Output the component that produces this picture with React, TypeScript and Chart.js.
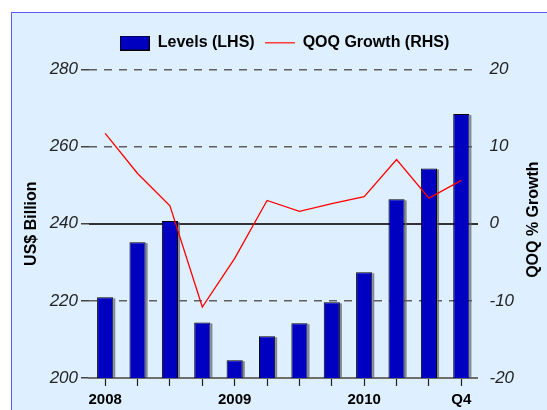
import React, { useEffect, useRef } from "react";
import { Chart, registerables } from "chart.js";

Chart.register(...registerables);

const quarters = [
  "2008 Q1", "2008 Q2", "2008 Q3", "2008 Q4",
  "2009 Q1", "2009 Q2", "2009 Q3", "2009 Q4",
  "2010 Q1", "2010 Q2", "2010 Q3", "2010 Q4",
];
const tickLabels = ["2008", "", "", "", "2009", "", "", "", "2010", "", "", "Q4"];
const levels = [220.9, 235.2, 240.7, 214.4, 204.6, 210.8, 214.2, 219.6, 227.4, 246.3, 254.3, 268.4];
const growth = [11.7, 6.5, 2.3, -10.8, -4.5, 3.0, 1.6, 2.6, 3.5, 8.3, 3.3, 5.6];
const levelsLabel = "Levels (LHS)";
const growthLabel = "QOQ Growth (RHS)";
const leftTitle = "US$ Billion";
const rightTitle = "QOQ % Growth";

const FAMILY = '"Liberation Sans", Arial, Helvetica, sans-serif';
const BAR_COLOR = "#0000C0";

export default function App() {
  const ref = useRef<HTMLCanvasElement | null>(null);

  useEffect(() => {
    if (!ref.current) return;
    Chart.defaults.font.family = FAMILY;

    const barIcon = document.createElement("canvas");
    barIcon.width = 30;
    barIcon.height = 15;
    const bc = barIcon.getContext("2d")!;
    bc.fillStyle = BAR_COLOR;
    bc.fillRect(0, 0, 30, 15);
    bc.strokeStyle = "#000";
    bc.lineWidth = 1;
    bc.strokeRect(0.5, 0.5, 29, 14);

    const lineIcon = document.createElement("canvas");
    lineIcon.width = 30;
    lineIcon.height = 2;
    const lc = lineIcon.getContext("2d")!;
    lc.fillStyle = "rgba(255,40,40,0.9)";
    lc.fillRect(0, 0, 30, 1.5);

    const shadowPlugin = {
      id: "barShadow",
      beforeDatasetDraw(chart: any, args: any) {
        if (args.meta.type !== "bar") return;
        const ctx = chart.ctx;
        const bottom = chart.chartArea.bottom;
        ctx.save();
        ctx.fillStyle = "rgba(100,100,110,0.75)";
        args.meta.data.forEach((el: any) => {
          const p = el.getProps(["x", "y", "base", "width"], true);
          const b = Math.min(p.base, bottom);
          ctx.fillRect(p.x + p.width / 2, p.y + 1, 2, b - p.y - 1);
        });
        ctx.restore();
      },
    };

    const rightTitlePlugin = {
      id: "rightTitle",
      afterDraw(chart: any) {
        const ctx = chart.ctx;
        const s = chart.scales.y1;
        const ca = chart.chartArea;
        ctx.save();
        ctx.translate(s.right - 13, (ca.top + ca.bottom) / 2 - 4);
        ctx.rotate(-Math.PI / 2);
        ctx.font = `bold 16px ${FAMILY}`;
        ctx.fillStyle = "#000";
        ctx.textAlign = "center";
        ctx.textBaseline = "middle";
        ctx.fillText(rightTitle, 0, 0);
        ctx.restore();
      },
    };

    const chart = new Chart(ref.current, {
      type: "bar",
      data: {
        labels: quarters,
        datasets: [
          {
            type: "bar",
            label: levelsLabel,
            data: levels,
            backgroundColor: BAR_COLOR,
            borderColor: "#000",
            borderWidth: 1,
            barPercentage: 0.5,
            categoryPercentage: 1,
            yAxisID: "y",
            order: 1,
          } as any,
          {
            type: "line",
            label: growthLabel,
            data: growth,
            borderColor: "#ff0000",
            backgroundColor: "#ff0000",
            borderWidth: 1.3,
            pointRadius: 0,
            tension: 0,
            fill: false,
            yAxisID: "y1",
            order: 0,
          } as any,
        ],
      },
      options: {
        animation: false,
        responsive: false,
        maintainAspectRatio: false,
        devicePixelRatio: 1,
        layout: { padding: { left: 22, right: 0, top: 25, bottom: 0 } },
        plugins: {
          tooltip: { enabled: false },
          title: {
            display: true,
            text: "",
            weight: 500,
            font: { size: 1, lineHeight: 1 },
            padding: { top: 0, bottom: 7.3 },
          } as any,
          legend: {
            position: "top",
            labels: {
              usePointStyle: true,
              pointStyleWidth: 30,
              boxHeight: 16,
              padding: 10,
              color: "#000",
              font: { size: 16, weight: "bold", family: FAMILY },
              generateLabels: (c: any) => {
                const items = (Chart.defaults.plugins.legend.labels as any).generateLabels(c);
                items.forEach((it: any) => {
                  it.pointStyle = it.datasetIndex === 0 ? barIcon : lineIcon;
                });
                return items.sort((a: any, b: any) => a.datasetIndex - b.datasetIndex);
              },
            },
          },
        },
        scales: {
          x: {
            type: "category",
            offset: true,
            grid: {
              drawOnChartArea: false,
              drawTicks: true,
              offset: false,
              tickLength: 8,
              tickColor: "#222",
              tickWidth: 1.2,
            },
            border: { display: true, color: "#6e6e6e", width: 2 },
            ticks: {
              autoSkip: false,
              maxRotation: 0,
              minRotation: 0,
              padding: 5,
              color: "#000",
              font: { size: 15, weight: "bold", family: FAMILY },
              callback: (_v: any, i: number) => tickLabels[i],
            },
            afterFit: (s: any) => {
              s.height = 32;
            },
          },
          y: {
            position: "left",
            min: 200,
            max: 280,
            ticks: {
              stepSize: 20,
              padding: 3,
              color: "#222",
              font: { size: 17, style: "italic", family: FAMILY },
            },
            grid: {
              color: (ctx: any) => (ctx.tick && ctx.tick.value === 200 ? "rgba(0,0,0,0)" : "#5f5f5f"),
              lineWidth: 1.5,
              drawTicks: true,
              tickLength: 8,
              tickColor: "#444",
              tickWidth: 1.5,
            },
            border: { display: false, dash: [8, 7] },
            title: {
              display: true,
              text: leftTitle,
              color: "#000",
              font: { size: 16, weight: "bold", family: FAMILY },
              padding: { top: 0, bottom: 0 },
            },
            afterFit: (s: any) => {
              s.width = 67;
            },
          },
          y1: {
            position: "right",
            min: -20,
            max: 20,
            ticks: {
              stepSize: 10,
              padding: 12,
              color: "#222",
              font: { size: 17, style: "italic", family: FAMILY },
            },
            grid: {
              color: (ctx: any) => (ctx.tick && ctx.tick.value === 0 ? "#333" : "rgba(0,0,0,0)"),
              lineWidth: 2,
              drawTicks: false,
            },
            border: { display: false },
            afterFit: (s: any) => {
              s.width = 69.5;
            },
          },
        },
      } as any,
      plugins: [shadowPlugin, rightTitlePlugin],
    });

    return () => chart.destroy();
  }, []);

  return (
    <div
      style={{
        position: "fixed",
        left: 0,
        top: 0,
        width: 547,
        height: 410,
        background: "#fff",
        overflow: "hidden",
      }}
    >
      <div
        style={{
          position: "absolute",
          left: 11,
          top: 12,
          width: 600,
          height: 500,
          background: "#DEEFFF",
          borderTop: "1px solid #5a5aff",
          borderLeft: "1px solid #5a5aff",
        }}
      />
      <canvas
        ref={ref}
        width={547}
        height={410}
        style={{ position: "absolute", left: 0, top: 0, width: 547, height: 410 }}
      />
    </div>
  );
}
